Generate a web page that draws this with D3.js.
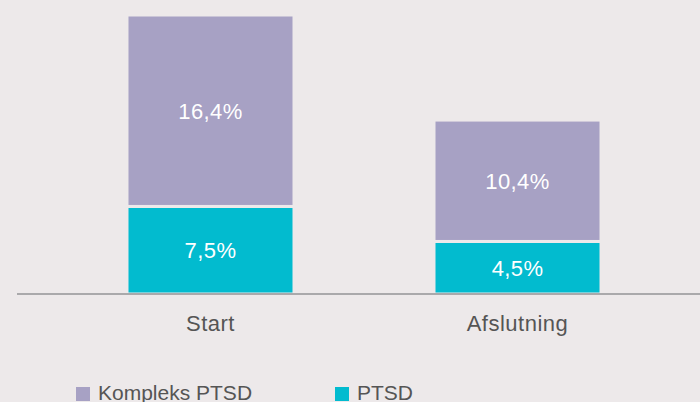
<!DOCTYPE html>
<html>
<head>
<meta charset="utf-8">
<script src="https://cdn.jsdelivr.net/npm/d3@7"></script>
<style>
  html, body { margin: 0; padding: 0; background: #ede9ea; }
  svg { display: block; font-family: "Liberation Sans", Arial, sans-serif; }
</style>
</head>
<body>
<div id="chart"></div>
<script>
// data
var categories = ["Start", "Afslutning"];
var seriesNames = ["PTSD", "Kompleks PTSD"];
var ptsd = [7.5, 4.5];
var kompleks = [16.4, 10.4];
var colors = ["#02bbcf", "#a7a1c4"];

var width = 700, height = 402;
var svg = d3.select("#chart").append("svg")
  .attr("width", width)
  .attr("height", height);

var rows = categories.map(function(c, i) {
  return { cat: c, "PTSD": ptsd[i], "Kompleks PTSD": kompleks[i] };
});
var stack = d3.stack().keys(seriesNames)(rows);

var x = d3.scaleBand().domain(categories).range([-13, 741]).padding(0.456);
var y = d3.scaleLinear().domain([0, 23.9]).range([294, 15]);

var color = d3.scaleOrdinal().domain(seriesNames).range(colors);

var layer = svg.selectAll("g.layer")
  .data(stack)
  .enter().append("g")
  .attr("class", "layer")
  .attr("fill", function(d) { return color(d.key); });

layer.selectAll("rect")
  .data(function(d) { return d; })
  .enter().append("rect")
  .attr("x", function(d) { return x(d.data.cat); })
  .attr("width", x.bandwidth())
  .attr("y", function(d) { return y(d[1]); })
  .attr("height", function(d) { return y(d[0]) - y(d[1]); })
  .attr("stroke", "#ede9ea")
  .attr("stroke-width", 3);

// baseline
svg.append("line")
  .attr("x1", 17).attr("x2", width)
  .attr("y1", y(0)).attr("y2", y(0))
  .attr("stroke", "#aaa9ab")
  .attr("stroke-width", 2);

// value labels
layer.selectAll("text")
  .data(function(d) { return d; })
  .enter().append("text")
  .attr("x", function(d) { return x(d.data.cat) + x.bandwidth() / 2; })
  .attr("y", function(d) { return (y(d[0]) + y(d[1])) / 2 + 8; })
  .attr("text-anchor", "middle")
  .attr("fill", "#ffffff")
  .style("font-size", "22px")
  .style("letter-spacing", "0.4px")
  .text(function(d) { return (Math.round((d[1] - d[0]) * 10) / 10).toFixed(1).replace(".", ",") + "%"; });

// category labels
var xAxis = svg.append("g")
  .attr("transform", "translate(0," + y(0) + ")")
  .call(d3.axisBottom(x).tickSize(0).tickPadding(21));
xAxis.select(".domain").remove();
xAxis.selectAll("text")
  .attr("fill", "#555555")
  .style("font-size", "22px")
  .style("letter-spacing", "0.5px")
  .style("font-family", "'Liberation Sans', Arial, sans-serif");

// legend
var legendItems = ["Kompleks PTSD", "PTSD"];
var legendX = d3.scaleOrdinal().domain(legendItems).range([76, 335]);
var lg = svg.selectAll("g.legend")
  .data(legendItems)
  .enter().append("g")
  .attr("class", "legend")
  .attr("transform", function(d) { return "translate(" + legendX(d) + ",387)"; });
lg.append("rect")
  .attr("width", 14).attr("height", 14)
  .attr("fill", function(d) { return color(d); });
lg.append("text")
  .attr("x", 22).attr("y", 13)
  .attr("fill", "#555555")
  .style("font-size", "21px")
  .text(function(d) { return d; });
</script>
</body>
</html>
